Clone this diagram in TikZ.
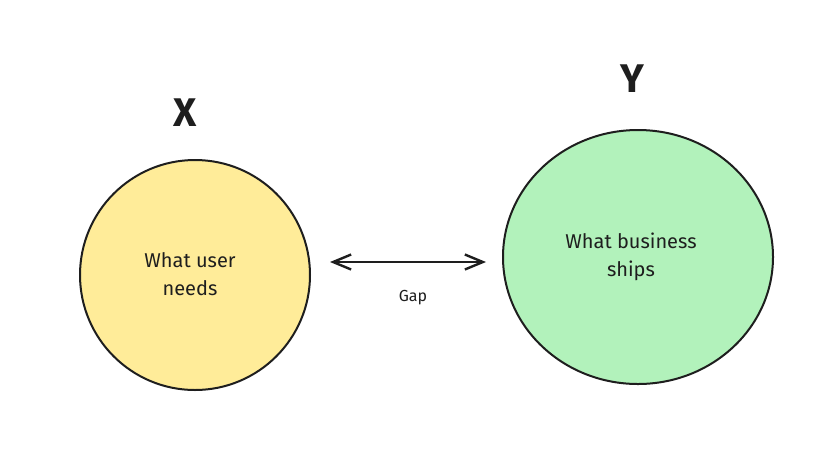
\documentclass[tikz,border=0pt]{standalone}
\usepackage{fontspec}
\setmainfont{Fira Sans}
\usepackage{xcolor}
\usetikzlibrary{shapes.geometric,arrows.meta,positioning}
\definecolor{inkgray}  {RGB}{30,30,30}
\definecolor{useryellow}{RGB}{255,236,153}
\definecolor{bizgreen} {RGB}{178,242,187}

\begin{document}
\begin{tikzpicture}[
  x=1pt, y=-1pt,
  font=\fontsize{20}{28}\selectfont,
  every node/.style={align=center, text=inkgray},
  usercircle/.style={circle, draw=inkgray, fill=useryellow,
    line width=2pt, minimum size=230pt, inner sep=0pt},
  bizcircle/.style={ellipse, draw=inkgray, fill=bizgreen,
    line width=2pt, minimum width=270pt, minimum height=254pt, inner sep=0pt},
  biglabel/.style={font=\fontsize{40}{40}\selectfont\bfseries, inner sep=0pt},
  innertext/.style={inner sep=0pt},
  gaparrow/.style={{Straight Barb[length=18pt, width=15pt]}-{Straight Barb[length=18pt, width=15pt]},
    line width=2.4pt, color=inkgray},
]
\useasboundingbox (0,0) rectangle (835,475);

% What the user needs
\node[usercircle] (user) at (195,275) {};
\node[innertext] (usertext) at (190,274) {What user\\needs};
\node[biglabel, above=32pt of user, xshift=-10pt] (xlab) {X};

% What the business ships
\node[bizcircle] (biz) at (638,257) {};
\node[innertext] (biztext) at (631,257) {What business\\ships};
\node[biglabel, above=36pt of biz, xshift=-6pt] (ylab) {Y};

% Gap between them
\draw[gaparrow] ([shift={(19,-13)}]user.east) -- ([shift={(-16,5)}]biz.west)
  node[midway, below=24pt, xshift=5pt, font=\fontsize{16}{16}\selectfont] (gap) {Gap};
\end{tikzpicture}
\end{document}
